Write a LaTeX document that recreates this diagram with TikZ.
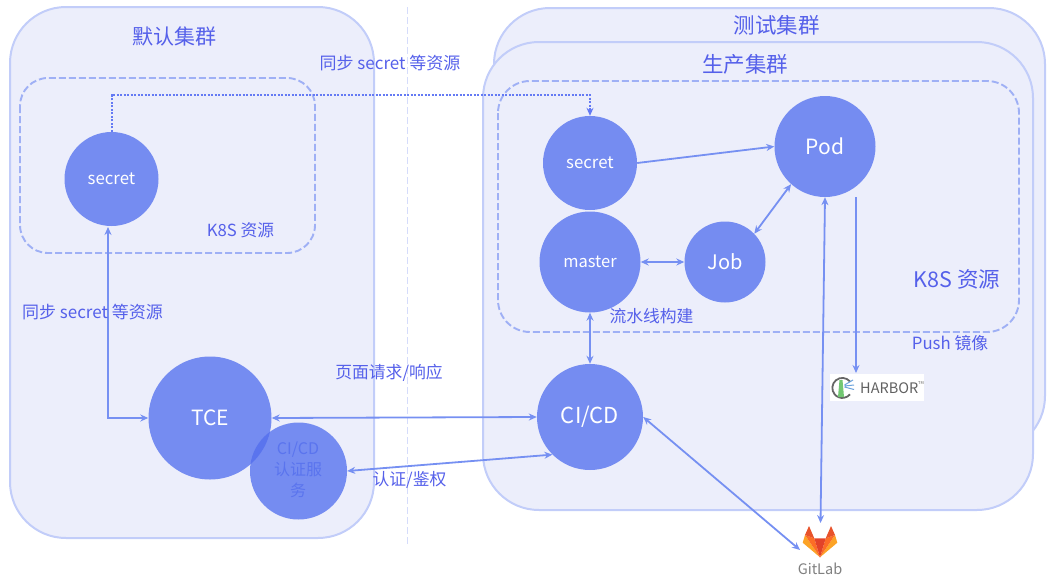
\documentclass[tikz,border=0pt]{standalone}
\usepackage{fontspec}
\setmainfont{Noto Sans CJK SC}
\usetikzlibrary{arrows.meta}
\definecolor{clusterfill}{HTML}{ECEEFB}
\definecolor{clusterline}{HTML}{C2CDF9}
\definecolor{dashline}{HTML}{9FB0F5}
\definecolor{podblue}{HTML}{758CF1}
\definecolor{linkblue}{HTML}{7690F2}
\definecolor{labelblue}{HTML}{5560EA}
\definecolor{overlapblue}{HTML}{5A74EE}
\definecolor{divider}{HTML}{D5DCFB}
\definecolor{foxred}{HTML}{E24329}
\definecolor{foxear}{HTML}{E8532B}
\definecolor{foxorange}{HTML}{FC6D26}
\definecolor{foxyellow}{HTML}{FCA326}
\tikzset{
  cluster/.style={draw=clusterline,fill=clusterfill,line width=2pt},
  resgroup/.style={draw=dashline,line width=1.9pt,dash pattern=on 7pt off 3pt},
  disc/.style={circle,fill=podblue,inner sep=0pt,text=white,align=center},
  link/.style={draw=linkblue,line width=1.8pt,{Stealth[length=8pt,width=7pt]}-{Stealth[length=8pt,width=7pt]}},
  oneway/.style={draw=linkblue,line width=1.8pt,-{Stealth[length=8pt,width=7pt]}},
  caption/.style={text=labelblue,inner sep=0pt},
}
\begin{document}
\begin{tikzpicture}[x=1pt,y=-1pt]
\useasboundingbox (0,0) rectangle (1052,581);

% clusters
\draw[cluster,rounded corners=56pt] (10,7) rectangle (374,538);
\draw[cluster,rounded corners=56pt] (494,8) rectangle (1045,452);
\draw[cluster,rounded corners=56pt] (483,42) rectangle (1033,510);

% divider between clusters
\draw[divider,line width=1.8pt,dash pattern=on 7pt off 3pt] (407.5,7) -- (407.5,544);

% resource groups
\draw[resgroup,rounded corners=28pt] (20,78) rectangle (315,253);
\draw[resgroup,rounded corners=32pt] (498,81) rectangle (1019,332);

% workloads
\node[disc,minimum size=94pt,font=\fontsize{16.8}{20}\selectfont] (secretL) at (111.5,179) {secret};
\node[disc,minimum size=94pt,font=\fontsize{16.8}{20}\selectfont] (secretR) at (590,163) {secret};
\node[disc,minimum size=101pt,font=\fontsize{16.5}{20}\selectfont] (master) at (590,262) {master};
\node[disc,minimum size=81pt,font=\fontsize{20}{24}\selectfont] (job) at (725,262) {Job};
\node[disc,minimum size=101pt,font=\fontsize{21}{25}\selectfont] (pod) at (825,146.5) {Pod};
\node[disc,minimum size=106pt,font=\fontsize{22}{26}\selectfont] (cicd) at (590,417) {CI/CD};
\node[disc,minimum size=123pt,font=\fontsize{21}{25}\selectfont] (tce) at (210,418) {TCE};
\node[disc,minimum size=97pt] (auth) at (298.5,471) {};
\begin{scope}
  \clip (tce.center) circle (61.5pt);
  \fill[overlapblue] (auth.center) circle (48.5pt);
\end{scope}
\node[text=overlapblue,align=center,font=\fontsize{16}{21}\selectfont,inner sep=0pt] (authtext) at (298,470) {CI/CD\\认证服\\务};

% registry mark
\node[fill=white,minimum width=94pt,minimum height=27pt,inner sep=0pt] (harbor) at (877,387.5) {};
\draw[black!60,line width=1.8pt] (850,381.5) arc[start angle=40,end angle=320,radius=10pt];
\fill[green!60!black!55] (839.5,380) -- (842.5,380) -- (844,397) -- (838,397) -- cycle;
\draw[cyan!60!blue!60,line width=1pt] (844.5,385) -- (853,380) (844.5,386) -- (854,385) (844.5,387) -- (854,389.5);
\node[text=black!62,font=\fontsize{14.5}{17}\selectfont,inner sep=0pt,anchor=west] (harborword) at (860,388) {HARBOR};
\node[text=black!62,font=\fontsize{4}{5}\selectfont,inner sep=0pt,anchor=west] (harbortm) at (918,383) {TM};

% repository mark
\fill[foxyellow] (805,535) -- (802.7,542.7) -- (820,557.3) -- cycle;
\fill[foxyellow] (835,535) -- (837.3,542.7) -- (820,557.3) -- cycle;
\fill[foxorange] (805,535) -- (814.3,538.3) -- (820,557.3) -- cycle;
\fill[foxorange] (835,535) -- (825.7,538.3) -- (820,557.3) -- cycle;
\fill[foxred] (814.3,538.3) -- (825.7,538.3) -- (820,557.3) -- cycle;
\fill[foxear] (809,526) -- (814.3,538.3) -- (805,535) -- cycle;
\fill[foxear] (831,526) -- (825.7,538.3) -- (835,535) -- cycle;
\node[text=black!50,font=\fontsize{14.5}{17}\selectfont,inner sep=0pt] (gitlab) at (820,569) {GitLab};

% attachment points away from circle borders
\coordinate (pushstart) at (856,197);
\coordinate (pushend) at (856,373);
\coordinate (gitlabtop) at (820.5,523);
\coordinate (gitlabside) at (800,550);
\coordinate (corner) at (108,418);
\coordinate (syncfoot) at (108,227);
\coordinate (syncrise) at (111.5,95);
\coordinate (syncdrop) at (590,95);

% connectors
\draw[oneway] (secretR.east) -- (pod.west);
\draw[link] (pod.228) -- (job.44);
\draw[link] (master.east) -- (job.west);
\draw[link] (master.south) -- (cicd.north);
\draw[oneway] (pushstart) -- (pushend);
\draw[link] (pod.south) -- (gitlabtop);
\draw[link] (cicd.east) -- (gitlabside);
\draw[link] (tce.east) -- (cicd.west);
\draw[link] (auth.east) -- (cicd.225);
\draw[link] (syncfoot) -- (corner) -- (tce.west);
\draw[draw=linkblue!85!blue,line width=2pt,dash pattern=on 2pt off 1.5pt,-{Stealth[length=8pt,width=7pt]}]
  (secretL.north) -- (syncrise) -- (syncdrop) -- (secretR.north);

% labels
\node[caption,font=\fontsize{21}{25}\selectfont] (t1) at (174.5,36) {默认集群};
\node[caption,font=\fontsize{21.5}{25}\selectfont] (t2) at (776.5,25) {测试集群};
\node[caption,font=\fontsize{21.5}{25}\selectfont] (t3) at (745,64) {生产集群};
\node[caption,font=\fontsize{17}{20}\selectfont] (t4) at (390,63) {同步 secret 等资源};
\node[caption,font=\fontsize{17}{20}\selectfont] (t5) at (92.5,312) {同步 secret 等资源};
\node[caption,font=\fontsize{16.7}{20}\selectfont] (t6) at (240.5,230) {K8S 资源};
\node[caption,font=\fontsize{21.5}{25}\selectfont] (t7) at (957,279) {K8S 资源};
\node[caption,font=\fontsize{16.8}{20}\selectfont] (t8) at (651.5,316) {流水线构建};
\node[caption,font=\fontsize{16.8}{20}\selectfont] (t9) at (950,343) {Push 镜像};
\node[caption,font=\fontsize{16.8}{20}\selectfont] (t10) at (389,373) {页面请求/响应};
\node[caption,font=\fontsize{16.8}{20}\selectfont] (t11) at (409.5,480) {认证/鉴权};
\end{tikzpicture}
\end{document}
